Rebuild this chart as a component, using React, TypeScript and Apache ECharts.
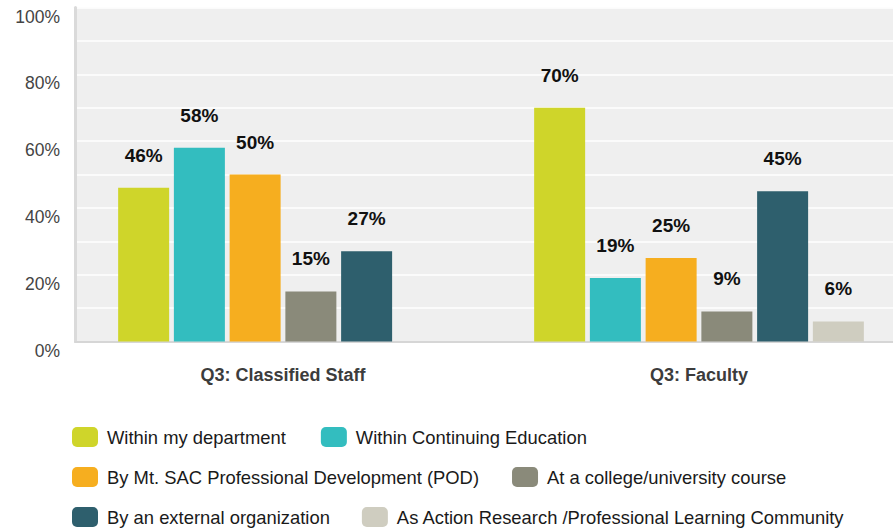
import React, { useEffect, useRef } from "react";
import * as echarts from "echarts";

const categories = ["Q3: Classified Staff", "Q3: Faculty"];
const seriesNames = [
  "Within my department",
  "Within Continuing Education",
  "By Mt. SAC Professional Development (POD)",
  "At a college/university course",
  "By an external organization",
  "As Action Research /Professional Learning Community",
];
const withinDepartment = [46, 70];
const withinContinuingEd = [58, 19];
const byPOD = [50, 25];
const collegeCourse = [15, 9];
const externalOrg = [27, 45];
const actionResearch: (number | null)[] = [null, 6];
const colors = ["#cfd52a", "#33bdbf", "#f6ae1f", "#8a8a7a", "#2e5f6d", "#cfcdc0"];
const yTicks = [0, 10, 20, 30, 40, 50, 60, 70, 80, 90, 100];

const FONT = 'Arial, "Liberation Sans", Helvetica, sans-serif';

export default function App() {
  const ref = useRef<HTMLDivElement>(null);
  useEffect(() => {
    if (!ref.current) return;
    const chart = echarts.init(ref.current, undefined, { renderer: "svg" });
    const allData = [
      withinDepartment,
      withinContinuingEd,
      byPOD,
      collegeCourse,
      externalOrg,
      actionResearch,
    ];
    const legendRows = [
      { names: [seriesNames[0], seriesNames[1]], top: 427, gap: 35 },
      { names: [seriesNames[2], seriesNames[3]], top: 467, gap: 33 },
      { names: [seriesNames[4], seriesNames[5]], top: 507, gap: 32 },
    ];
    chart.setOption({
      animation: false,
      backgroundColor: "#ffffff",
      textStyle: { fontFamily: FONT },
      grid: {
        left: 75,
        top: 7.5,
        width: 832,
        height: 334,
        outerBoundsMode: "none",
        containLabel: false,
        show: true,
        backgroundColor: "#efefef",
        borderWidth: 0,
      },
      legend: legendRows.map((r) => ({
        data: r.names,
        left: 72,
        top: r.top,
        orient: "horizontal",
        icon: "roundRect",
        itemWidth: 26,
        itemHeight: 20,
        itemGap: r.gap,
        padding: 0,
        selectedMode: false,
        textStyle: {
          fontFamily: FONT,
          fontSize: 18.4,
          color: "#1a1a1a",
          padding: [0, 0, 0, 4],
        },
      })),
      xAxis: {
        type: "category",
        data: categories,
        axisLine: { show: true, lineStyle: { color: "#d6d6d6", width: 2 } },
        axisTick: { show: false },
        axisLabel: {
          margin: 24,
          fontFamily: FONT,
          fontSize: 18,
          fontWeight: "bold",
          color: "#3c3c3c",
        },
        splitLine: { show: false },
      },
      yAxis: {
        type: "value",
        min: yTicks[0],
        max: yTicks[yTicks.length - 1],
        interval: 10,
        axisLine: { show: true, lineStyle: { color: "#dadada", width: 3 } },
        axisTick: { show: false },
        axisLabel: {
          margin: 15,
          fontFamily: FONT,
          fontSize: 17.5,
          color: "#444444",
          verticalAlign: "top",
          formatter: (v: number) => (v % 20 === 0 ? v + "%" : ""),
        },
        splitLine: { show: true, lineStyle: { color: "#ffffff", width: 1.5 } },
      },
      series: seriesNames.map((name, i) => ({
        name,
        type: "bar",
        data: allData[i],
        barWidth: 51,
        barGap: "9.3%",
        itemStyle: { color: colors[i] },
        label: {
          show: true,
          position: "top",
          distance: 23,
          formatter: "{c}%",
          fontFamily: FONT,
          fontSize: 19,
          fontWeight: "bold",
          color: "#111111",
        },
      })),
    });
    return () => chart.dispose();
  }, []);
  return (
    <div
      ref={ref}
      style={{ position: "fixed", left: 0, top: 0, width: 893, height: 528 }}
    />
  );
}
